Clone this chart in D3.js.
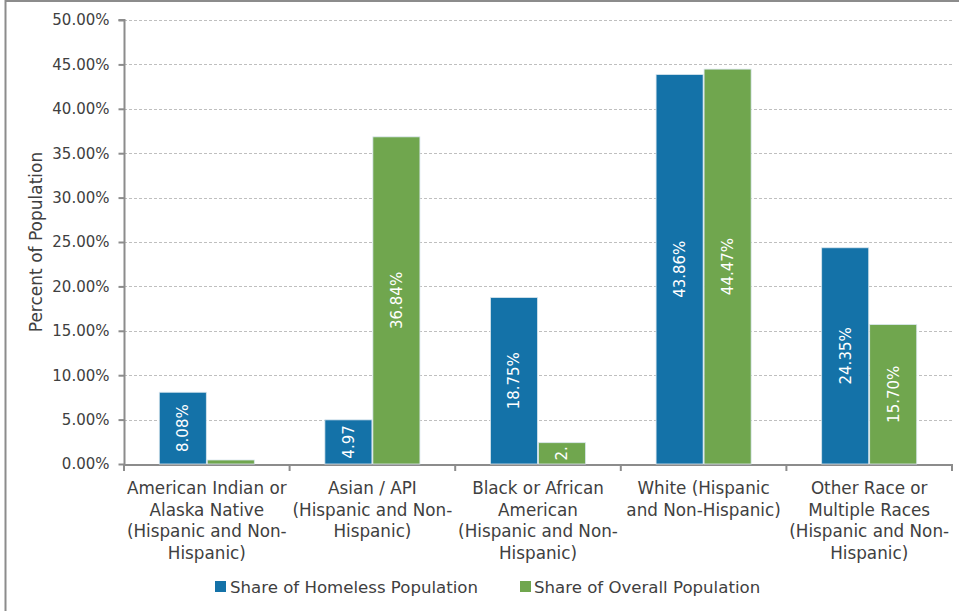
<!DOCTYPE html>
<html>
<head>
<meta charset="utf-8">
<script src="https://cdn.jsdelivr.net/npm/d3@7/dist/d3.min.js"></script>
<style>
  html, body { margin: 0; padding: 0; background: #fff; }
  svg { display: block; }
  text { font-family: "DejaVu Sans", sans-serif; fill: #404040; }
</style>
</head>
<body>
<svg id="chart" width="959" height="611"></svg>
<script>
// ---- data ----
const categories = [
  ["American Indian or", "Alaska Native", "(Hispanic and Non-", "Hispanic)"],
  ["Asian / API", "(Hispanic and Non-", "Hispanic)"],
  ["Black or African", "American", "(Hispanic and Non-", "Hispanic)"],
  ["White (Hispanic", "and Non-Hispanic)"],
  ["Other Race or", "Multiple Races", "(Hispanic and Non-", "Hispanic)"]
];
const seriesNames = ["Share of Homeless Population", "Share of Overall Population"];
const homeless = [8.08, 4.97, 18.75, 43.86, 24.35];
const overall = [0.45, 36.84, 2.40, 44.47, 15.70];
// data labels as shown in the picture (Excel truncates labels that do not fit)
const homelessLabels = ["8.08%", "4.97", "18.75%", "43.86%", "24.35%"];
const overallLabels = ["", "36.84%", "2.", "44.47%", "15.70%"];
const yTicks = [0, 5, 10, 15, 20, 25, 30, 35, 40, 45, 50];
const colors = ["#1472a8", "#70a64e"];

// ---- layout ----
const svg = d3.select("#chart");
const plot = { left: 124, right: 952, top: 20, bottom: 464 };

// outer frame
svg.append("line").attr("x1", 5).attr("x2", 959).attr("y1", 1).attr("y2", 1)
  .attr("stroke", "#8c8c8c").attr("stroke-width", 2);
svg.append("line").attr("x1", 5.5).attr("x2", 5.5).attr("y1", 0).attr("y2", 611)
  .attr("stroke", "#8c8c8c").attr("stroke-width", 2);

const idx = categories.map((d, i) => i);
const x0 = d3.scaleBand().domain(idx).range([plot.left, plot.right]).padding(0);
const x1 = d3.scaleBand().domain([0, 1]).range([0, x0.bandwidth()])
  .paddingInner(0.02).paddingOuter(0.735);
const y = d3.scaleLinear().domain([0, 50]).range([plot.bottom, plot.top]);

// gridlines
svg.append("g").selectAll("line").data(yTicks.filter(t => t > 0)).join("line")
  .attr("x1", plot.left).attr("x2", plot.right)
  .attr("y1", d => Math.round(y(d)) + 0.5).attr("y2", d => Math.round(y(d)) + 0.5)
  .attr("stroke", "#bfbfbf").attr("stroke-dasharray", "3,2").attr("stroke-width", 1);

// y axis
const yAxis = d3.axisLeft(y).tickValues(yTicks).tickFormat(d => d3.format(".2f")(d) + "%")
  .tickSize(6).tickPadding(9);
const gy = svg.append("g").attr("transform", `translate(${plot.left + 0.5},0)`).call(yAxis);
gy.select(".domain").attr("stroke", "#8c8c8c").attr("stroke-width", 2)
  .attr("d", `M-6,${y(50)}H0V${y(0)}`);
gy.selectAll(".tick line").attr("stroke", "#8c8c8c").attr("stroke-width", 2);
gy.selectAll(".tick text").attr("font-size", 15).attr("fill", "#404040")
  .style("font-family", "DejaVu Sans");

// x axis line & ticks at category boundaries
svg.append("line").attr("x1", plot.left).attr("x2", plot.right)
  .attr("y1", plot.bottom + 1).attr("y2", plot.bottom + 1)
  .attr("stroke", "#8c8c8c").attr("stroke-width", 2);
const bounds = idx.map(i => x0(i)).concat([plot.right]);
svg.append("g").selectAll("line").data(bounds).join("line")
  .attr("x1", d => d).attr("x2", d => d)
  .attr("y1", plot.bottom).attr("y2", plot.bottom + 7)
  .attr("stroke", "#8c8c8c").attr("stroke-width", 2);

// category labels
const catG = svg.append("g");
categories.forEach((lines, i) => {
  const t = catG.append("text").attr("text-anchor", "middle").attr("font-size", 16.8);
  lines.forEach((ln, j) => {
    t.append("tspan").attr("x", x0(i) + x0.bandwidth() / 2).attr("y", 494 + j * 21.6).text(ln);
  });
});

// bars
const series = [homeless, overall];
const labels = [homelessLabels, overallLabels];
series.forEach((vals, s) => {
  const g = svg.append("g");
  g.selectAll("rect").data(vals).join("rect")
    .attr("x", (d, i) => x0(i) + x1(s))
    .attr("y", d => y(d))
    .attr("width", x1.bandwidth())
    .attr("height", d => y(0) - y(d))
    .attr("fill", colors[s])
    .attr("stroke", "#d9e6ee").attr("stroke-width", 0.8);
  g.selectAll("text").data(vals).join("text")
    .attr("transform", (d, i) => {
      const cx = x0(i) + x1(s) + x1.bandwidth() / 2;
      const cy = (y(d) + y(0)) / 2;
      return `translate(${cx},${cy}) rotate(-90)`;
    })
    .attr("text-anchor", "middle").attr("dy", "0.36em")
    .attr("font-size", 15)
    .style("fill", "#ffffff")
    .text((d, i) => labels[s][i]);
});

// legend
const legend = [{ x: 215, tx: 230 }, { x: 520, tx: 534 }];
seriesNames.forEach((name, s) => {
  svg.append("rect").attr("x", legend[s].x).attr("y", 581).attr("width", 11).attr("height", 11)
    .attr("fill", colors[s]);
  svg.append("text").attr("x", legend[s].tx).attr("y", 593).attr("font-size", 16.6).text(name);
});

// y axis title
svg.append("text").attr("transform", `translate(42,242) rotate(-90)`)
  .attr("text-anchor", "middle").attr("font-size", 17).text("Percent of Population");
</script>
</body>
</html>
